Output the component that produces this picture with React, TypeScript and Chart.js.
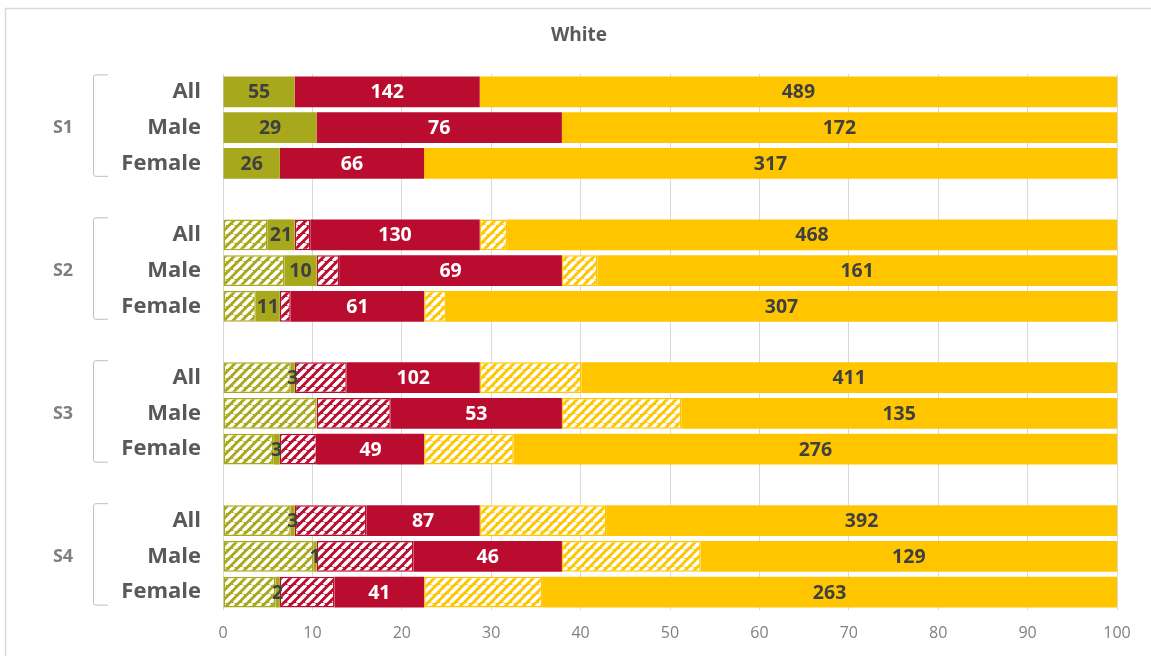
import { useEffect, useRef } from "react";
import { Chart, registerables } from "chart.js";

Chart.register(...registerables);

// Groups and sub-groups shown on the category axis
const groups = ["S1", "S2", "S3", "S4"];
const subgroups = ["All", "Male", "Female"];

// Counts per row, ordered S1 All, S1 Male, S1 Female, S2 All, ...
const greenNow = [55, 29, 26, 21, 10, 11, 3, 0, 3, 3, 1, 2];
const greenLost = [0, 0, 0, 34, 19, 15, 52, 29, 23, 52, 28, 24];
const redNow = [142, 76, 66, 130, 69, 61, 102, 53, 49, 87, 46, 41];
const redLost = [0, 0, 0, 12, 7, 5, 40, 23, 17, 55, 30, 25];
const yellowNow = [489, 172, 317, 468, 161, 307, 411, 135, 276, 392, 129, 263];
const yellowLost = [0, 0, 0, 21, 11, 10, 78, 37, 41, 97, 43, 54];

const xTicks = [0, 10, 20, 30, 40, 50, 60, 70, 80, 90, 100];

const GREEN = "#A8A81C";
const RED = "#BA0C2F";
const YELLOW = "#FFC600";
const FONT = "'Open Sans', 'DejaVu Sans', sans-serif";

// Category labels with a blank spacer row between groups
const rowLabels: string[] = [];
const rowIndex: number[] = []; // data row -> category position
groups.forEach((g, gi) => {
  subgroups.forEach((s) => {
    rowIndex.push(rowLabels.length);
    rowLabels.push(s);
  });
  if (gi < groups.length - 1) rowLabels.push("");
});

const series = [greenLost, greenNow, redLost, redNow, yellowLost, yellowNow];
const rowTotals = greenNow.map((_, r) => series.reduce((sum, arr) => sum + arr[r], 0));

function toPercent(arr: number[]): (number | null)[] {
  const out: (number | null)[] = rowLabels.map(() => null);
  arr.forEach((v, r) => {
    out[rowIndex[r]] = (v / rowTotals[r]) * 100;
  });
  return out;
}

function toCounts(arr: number[]): (number | null)[] {
  const out: (number | null)[] = rowLabels.map(() => null);
  arr.forEach((v, r) => {
    out[rowIndex[r]] = v;
  });
  return out;
}

function makeHatch(color: string): CanvasPattern | string {
  const size = 9;
  const c = document.createElement("canvas");
  c.width = size;
  c.height = size;
  const ctx = c.getContext("2d");
  if (!ctx) return color;
  ctx.fillStyle = color;
  ctx.fillRect(0, 0, size, size);
  ctx.strokeStyle = "#ffffff";
  ctx.lineWidth = 3.6;
  ctx.beginPath();
  for (const off of [-size, 0, size]) {
    ctx.moveTo(off, size);
    ctx.lineTo(off + size, 0);
  }
  ctx.stroke();
  return ctx.createPattern(c, "repeat") || color;
}

export default function App() {
  const canvasRef = useRef<HTMLCanvasElement | null>(null);

  useEffect(() => {
    const canvas = canvasRef.current;
    if (!canvas) return;

    const solidCounts = [toCounts(greenNow), toCounts(redNow), toCounts(yellowNow)];
    const labelColors = ["#404040", "#ffffff", "#404040"];

    const common = {
      stack: "s",
      barPercentage: 0.86,
      categoryPercentage: 1,
    };

    const hatched = (data: number[], color: string) => ({
      ...common,
      data: toPercent(data),
      backgroundColor: makeHatch(color),
      borderColor: color,
      borderWidth: 1.5,
      borderSkipped: false,
    });
    const solid = (data: number[], color: string) => ({
      ...common,
      data: toPercent(data),
      backgroundColor: color,
      borderWidth: 0,
    });

    const framePlugin = {
      id: "frame",
      beforeDraw(chart: any) {
        const ctx = chart.ctx;
        ctx.save();
        ctx.strokeStyle = "#d9d9d9";
        ctx.lineWidth = 1.5;
        ctx.strokeRect(5.5, 8.5, 1300, 800);
        ctx.fillStyle = "#595959";
        ctx.font = `bold 19px ${FONT}`;
        ctx.textAlign = "center";
        ctx.textBaseline = "middle";
        ctx.fillText("White", 579, 36);
        ctx.restore();
      },
    };

    const valuePlugin = {
      id: "values",
      afterDatasetsDraw(chart: any) {
        const ctx = chart.ctx;
        ctx.save();
        ctx.font = `bold 19.5px ${FONT}`;
        ctx.textAlign = "center";
        ctx.textBaseline = "middle";
        [1, 3, 5].forEach((dsIdx, k) => {
          const meta = chart.getDatasetMeta(dsIdx);
          meta.data.forEach((bar: any, i: number) => {
            const count = solidCounts[k][i];
            if (count === null || count === 0) return;
            const cx = (bar.x + bar.base) / 2;
            ctx.fillStyle = labelColors[k];
            ctx.fillText(String(count), cx, bar.y + 1);
          });
        });
        ctx.restore();
      },
    };

    const groupPlugin = {
      id: "groups",
      afterDraw(chart: any) {
        const ctx = chart.ctx;
        const y = chart.scales.y;
        ctx.save();
        groups.forEach((g, gi) => {
          const first = rowIndex[gi * 3];
          const last = rowIndex[gi * 3 + 2];
          const top = y.getPixelForValue(first) - 17.5;
          const bottom = y.getPixelForValue(last) + 13.5;
          const mid = y.getPixelForValue(rowIndex[gi * 3 + 1]);
          ctx.strokeStyle = "#bfbfbf";
          ctx.lineWidth = 1;
          ctx.beginPath();
          ctx.moveTo(108, top + 0.5);
          ctx.lineTo(96, top + 0.5);
          ctx.quadraticCurveTo(93.5, top + 0.5, 93.5, top + 3);
          ctx.lineTo(93.5, bottom - 3);
          ctx.quadraticCurveTo(93.5, bottom - 0.5, 96, bottom - 0.5);
          ctx.lineTo(108, bottom - 0.5);
          ctx.stroke();
          ctx.fillStyle = "#7f7f7f";
          ctx.font = `bold 18px ${FONT}`;
          ctx.textAlign = "center";
          ctx.textBaseline = "middle";
          ctx.fillText(g, 63, mid);
        });
        ctx.restore();
      },
    };

    const chart = new Chart(canvas, {
      type: "bar",
      data: {
        labels: rowLabels,
        datasets: [
          hatched(greenLost, GREEN),
          solid(greenNow, GREEN),
          hatched(redLost, RED),
          solid(redNow, RED),
          hatched(yellowLost, YELLOW),
          solid(yellowNow, YELLOW),
        ] as any,
      },
      options: {
        indexAxis: "y",
        animation: false,
        responsive: true,
        maintainAspectRatio: false,
        devicePixelRatio: 1,
        layout: { padding: { top: 74, right: 34, bottom: 12, left: 0 } },
        plugins: {
          legend: { display: false },
          title: { display: false },
          tooltip: { enabled: false },
        },
        scales: {
          x: {
            stacked: true,
            min: 0,
            max: 100,
            afterBuildTicks: (scale: any) => {
              scale.ticks = xTicks.map((v) => ({ value: v }));
            },
            afterFit: (scale: any) => {
              scale.height = 34;
            },
            ticks: {
              color: "#808080",
              font: { family: FONT, size: 16 },
              padding: 14,
            },
            grid: { color: "#d9d9d9", drawTicks: false },
            border: { display: false },
          },
          y: {
            stacked: true,
            afterFit: (scale: any) => {
              scale.width = 223;
            },
            ticks: {
              color: "#595959",
              font: { family: FONT, size: 22, weight: "bold" },
              padding: 22,
            },
            grid: { display: false, drawTicks: false },
            border: { display: false },
          },
        },
      },
      plugins: [framePlugin, valuePlugin, groupPlugin],
    });

    return () => chart.destroy();
  }, []);

  return (
    <div
      style={{
        position: "fixed",
        left: 0,
        top: 0,
        width: 1151,
        height: 656,
        background: "#ffffff",
      }}
    >
      <canvas ref={canvasRef} />
    </div>
  );
}
